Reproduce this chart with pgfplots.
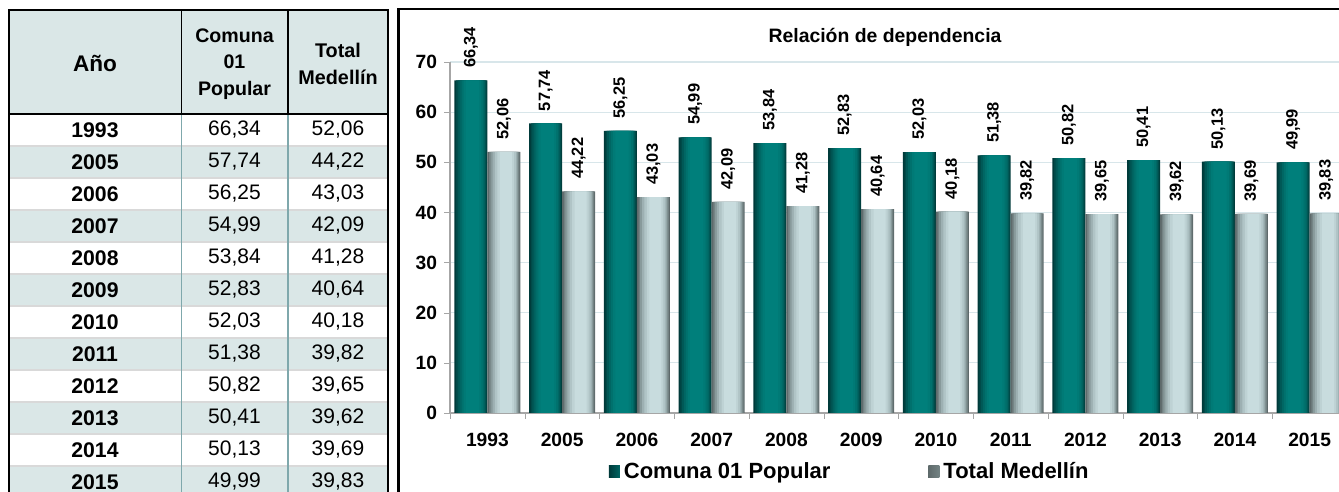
\documentclass[border=0pt]{standalone}
\usepackage{pgfplots}
\usepackage{pgfplotstable}
\pgfplotsset{compat=1.18}
\usepackage{fontspec}
\setmainfont{Liberation Sans}

\definecolor{t1}{HTML}{003A3A}
\definecolor{t2}{HTML}{004A48}
\definecolor{t3}{HTML}{005856}
\definecolor{t4}{HTML}{006663}
\definecolor{t5}{HTML}{00716D}
\definecolor{t6}{HTML}{007A76}
\definecolor{t7}{HTML}{007F7B}
\definecolor{g1}{HTML}{5E6A6B}
\definecolor{g2}{HTML}{738283}
\definecolor{g3}{HTML}{889A9B}
\definecolor{g4}{HTML}{9DB0B2}
\definecolor{g5}{HTML}{B0C4C6}
\definecolor{g6}{HTML}{BED2D4}
\definecolor{g7}{HTML}{C8DCDE}
\definecolor{rowfill}{HTML}{DAE7E7}
\definecolor{rowline}{HTML}{D9D9D9}
\definecolor{colline}{HTML}{7FA8AC}
\definecolor{gridc}{HTML}{D8E6EA}
\definecolor{axisc}{HTML}{A6A6A6}

\pgfkeys{/pgf/number format/assume math mode=true}

\pgfplotstableread{
x anio comuna total
0  1993 66.34 52.06
1  2005 57.74 44.22
2  2006 56.25 43.03
3  2007 54.99 42.09
4  2008 53.84 41.28
5  2009 52.83 40.64
6  2010 52.03 40.18
7  2011 51.38 39.82
8  2012 50.82 39.65
9  2013 50.41 39.62
10 2014 50.13 39.69
11 2015 49.99 39.83
}\datos

% capa de barra: centro de la serie, borde izq., borde der. (fracciones), color
\pgfplotsset{
  capa/.style n args={4}{draw=none, fill=#4,
    bar width={(#3-#2)*16.5pt},
    bar shift={#1pt+((#2+#3)/2-0.5)*16.5pt}},
}

\begin{document}
\begin{tikzpicture}[x=0.5pt,y=0.5pt]
\useasboundingbox (0,0) rectangle (1339,492);
\clip (0,0) rectangle (1339,492);

% tabla
\fill[rowfill] (9,482) rectangle (388,378);
\foreach \i in {0,...,11}{
  \pgfmathsetmacro\ytop{378-32*\i}
  \ifodd\i \fill[rowfill] (9,\ytop) rectangle (388,\ytop-32);\fi
  \ifnum\i>0 \draw[rowline, line width=1.3pt] (9,\ytop) -- (388,\ytop);\fi
  \pgfplotstablegetelem{\i}{anio}\of\datos \let\va\pgfplotsretval
  \pgfplotstablegetelem{\i}{comuna}\of\datos \let\vb\pgfplotsretval
  \pgfplotstablegetelem{\i}{total}\of\datos \let\vc\pgfplotsretval
  \node[font=\bfseries\fontsize{10.6}{12}\selectfont] at (95,\ytop-16) {\va};
  \node[font=\fontsize{10.5}{12}\selectfont] at (234.5,\ytop-16)
    {\pgfmathprintnumber[fixed,fixed zerofill,precision=2,use comma]{\vb}};
  \node[font=\fontsize{10.5}{12}\selectfont] at (338,\ytop-16)
    {\pgfmathprintnumber[fixed,fixed zerofill,precision=2,use comma]{\vc}};
}
\draw[colline, line width=0.8pt] (181.5,378) -- (181.5,0) (288,378) -- (288,0);
\draw[black, line width=0.9pt] (181.5,482) -- (181.5,378) (288,482) -- (288,378);
\draw[black, line width=1pt] (9,378) -- (388,378);
\draw[black, line width=1.2pt] (9,0) -- (9,482) -- (388,482) -- (388,0);
\node[font=\bfseries\fontsize{11.3}{13}\selectfont] at (95,429) {Año};
\node[font=\bfseries\fontsize{9.8}{13.25}\selectfont, align=center] at (234.5,428) {Comuna\\01\\Popular};
\node[font=\bfseries\fontsize{9.9}{13.25}\selectfont, align=center] at (338,428) {Total\\Medellín};

% grafico
\draw[black, line width=1.2pt] (398.5,0) -- (398.5,483) -- (1400,483);
\node[font=\bfseries\fontsize{9.7}{11}\selectfont] at (885,455) {Relación de dependencia};

\begin{axis}[
  at={(225pt,39.5pt)}, anchor=south west,
  width=448.5pt, height=175.5pt, scale only axis,
  xmin=-0.5, xmax=11.5, ymin=0, ymax=70,
  ybar=0pt, bar width=16.5pt,
  xtick={0,...,11}, xticklabels from table={\datos}{anio},
  minor xtick={-0.5,0.5,...,11.5},
  major x tick style={draw=none},
  minor x tick style={draw=axisc},
  ytick={0,10,...,70},
  y tick style={draw=axisc},
  ymajorgrids, grid style={gridc, line width=0.6pt},
  axis x line*=bottom, axis y line*=left,
  axis line style={axisc, line width=0.6pt},
  tick align=outside, major tick length=3pt, minor tick length=3pt,
  tick label style={font=\bfseries\fontsize{9.6}{11}\selectfont},
  xticklabel style={yshift=-3.5pt},
  /pgf/number format/assume math mode=true,
  nodes near coords style={rotate=90, anchor=west, inner xsep=6pt,
    font=\bfseries\fontsize{8.2}{9}\selectfont, text=black},
  legend columns=2,
  legend style={at={(axis description cs:0.17,-0.168)}, anchor=west,
    draw=none, fill=none, font=\bfseries\fontsize{11}{12}\selectfont,
    /tikz/every even column/.append style={column sep=47pt}},
]
% Comuna 01 Popular
\addplot[capa={-8.25}{0}{1}{t1},
  legend image code/.code={\path[left color=t1, middle color=t7, right color=t4]
    (0pt,-3pt) rectangle (5.5pt,3pt);},
  nodes near coords={\pgfmathprintnumber[fixed,fixed zerofill,precision=2,use comma]{\pgfplotspointmeta}}]
  table[x=x, y=comuna]{\datos};
\addplot[capa={-8.25}{0.05}{0.98}{t2}, forget plot] table[x=x, y=comuna]{\datos};
\addplot[capa={-8.25}{0.10}{0.95}{t3}, forget plot] table[x=x, y=comuna]{\datos};
\addplot[capa={-8.25}{0.16}{0.92}{t4}, forget plot] table[x=x, y=comuna]{\datos};
\addplot[capa={-8.25}{0.22}{0.88}{t5}, forget plot] table[x=x, y=comuna]{\datos};
\addplot[capa={-8.25}{0.28}{0.82}{t6}, forget plot] table[x=x, y=comuna]{\datos};
\addplot[capa={-8.25}{0.35}{0.75}{t7}, forget plot] table[x=x, y=comuna]{\datos};
% Total Medellin
\addplot[capa={8.25}{0}{1}{g1},
  legend image code/.code={\path[left color=g1, middle color=g7, right color=g2]
    (0pt,-3pt) rectangle (5.5pt,3pt);},
  nodes near coords={\pgfmathprintnumber[fixed,fixed zerofill,precision=2,use comma]{\pgfplotspointmeta}}]
  table[x=x, y=total]{\datos};
\addplot[capa={8.25}{0.05}{0.97}{g2}, forget plot] table[x=x, y=total]{\datos};
\addplot[capa={8.25}{0.10}{0.93}{g3}, forget plot] table[x=x, y=total]{\datos};
\addplot[capa={8.25}{0.16}{0.90}{g4}, forget plot] table[x=x, y=total]{\datos};
\addplot[capa={8.25}{0.23}{0.86}{g5}, forget plot] table[x=x, y=total]{\datos};
\addplot[capa={8.25}{0.30}{0.80}{g6}, forget plot] table[x=x, y=total]{\datos};
\addplot[capa={8.25}{0.38}{0.74}{g7}, forget plot] table[x=x, y=total]{\datos};
\legend{Comuna 01 Popular, Total Medellín}
\end{axis}
\end{tikzpicture}
\end{document}
